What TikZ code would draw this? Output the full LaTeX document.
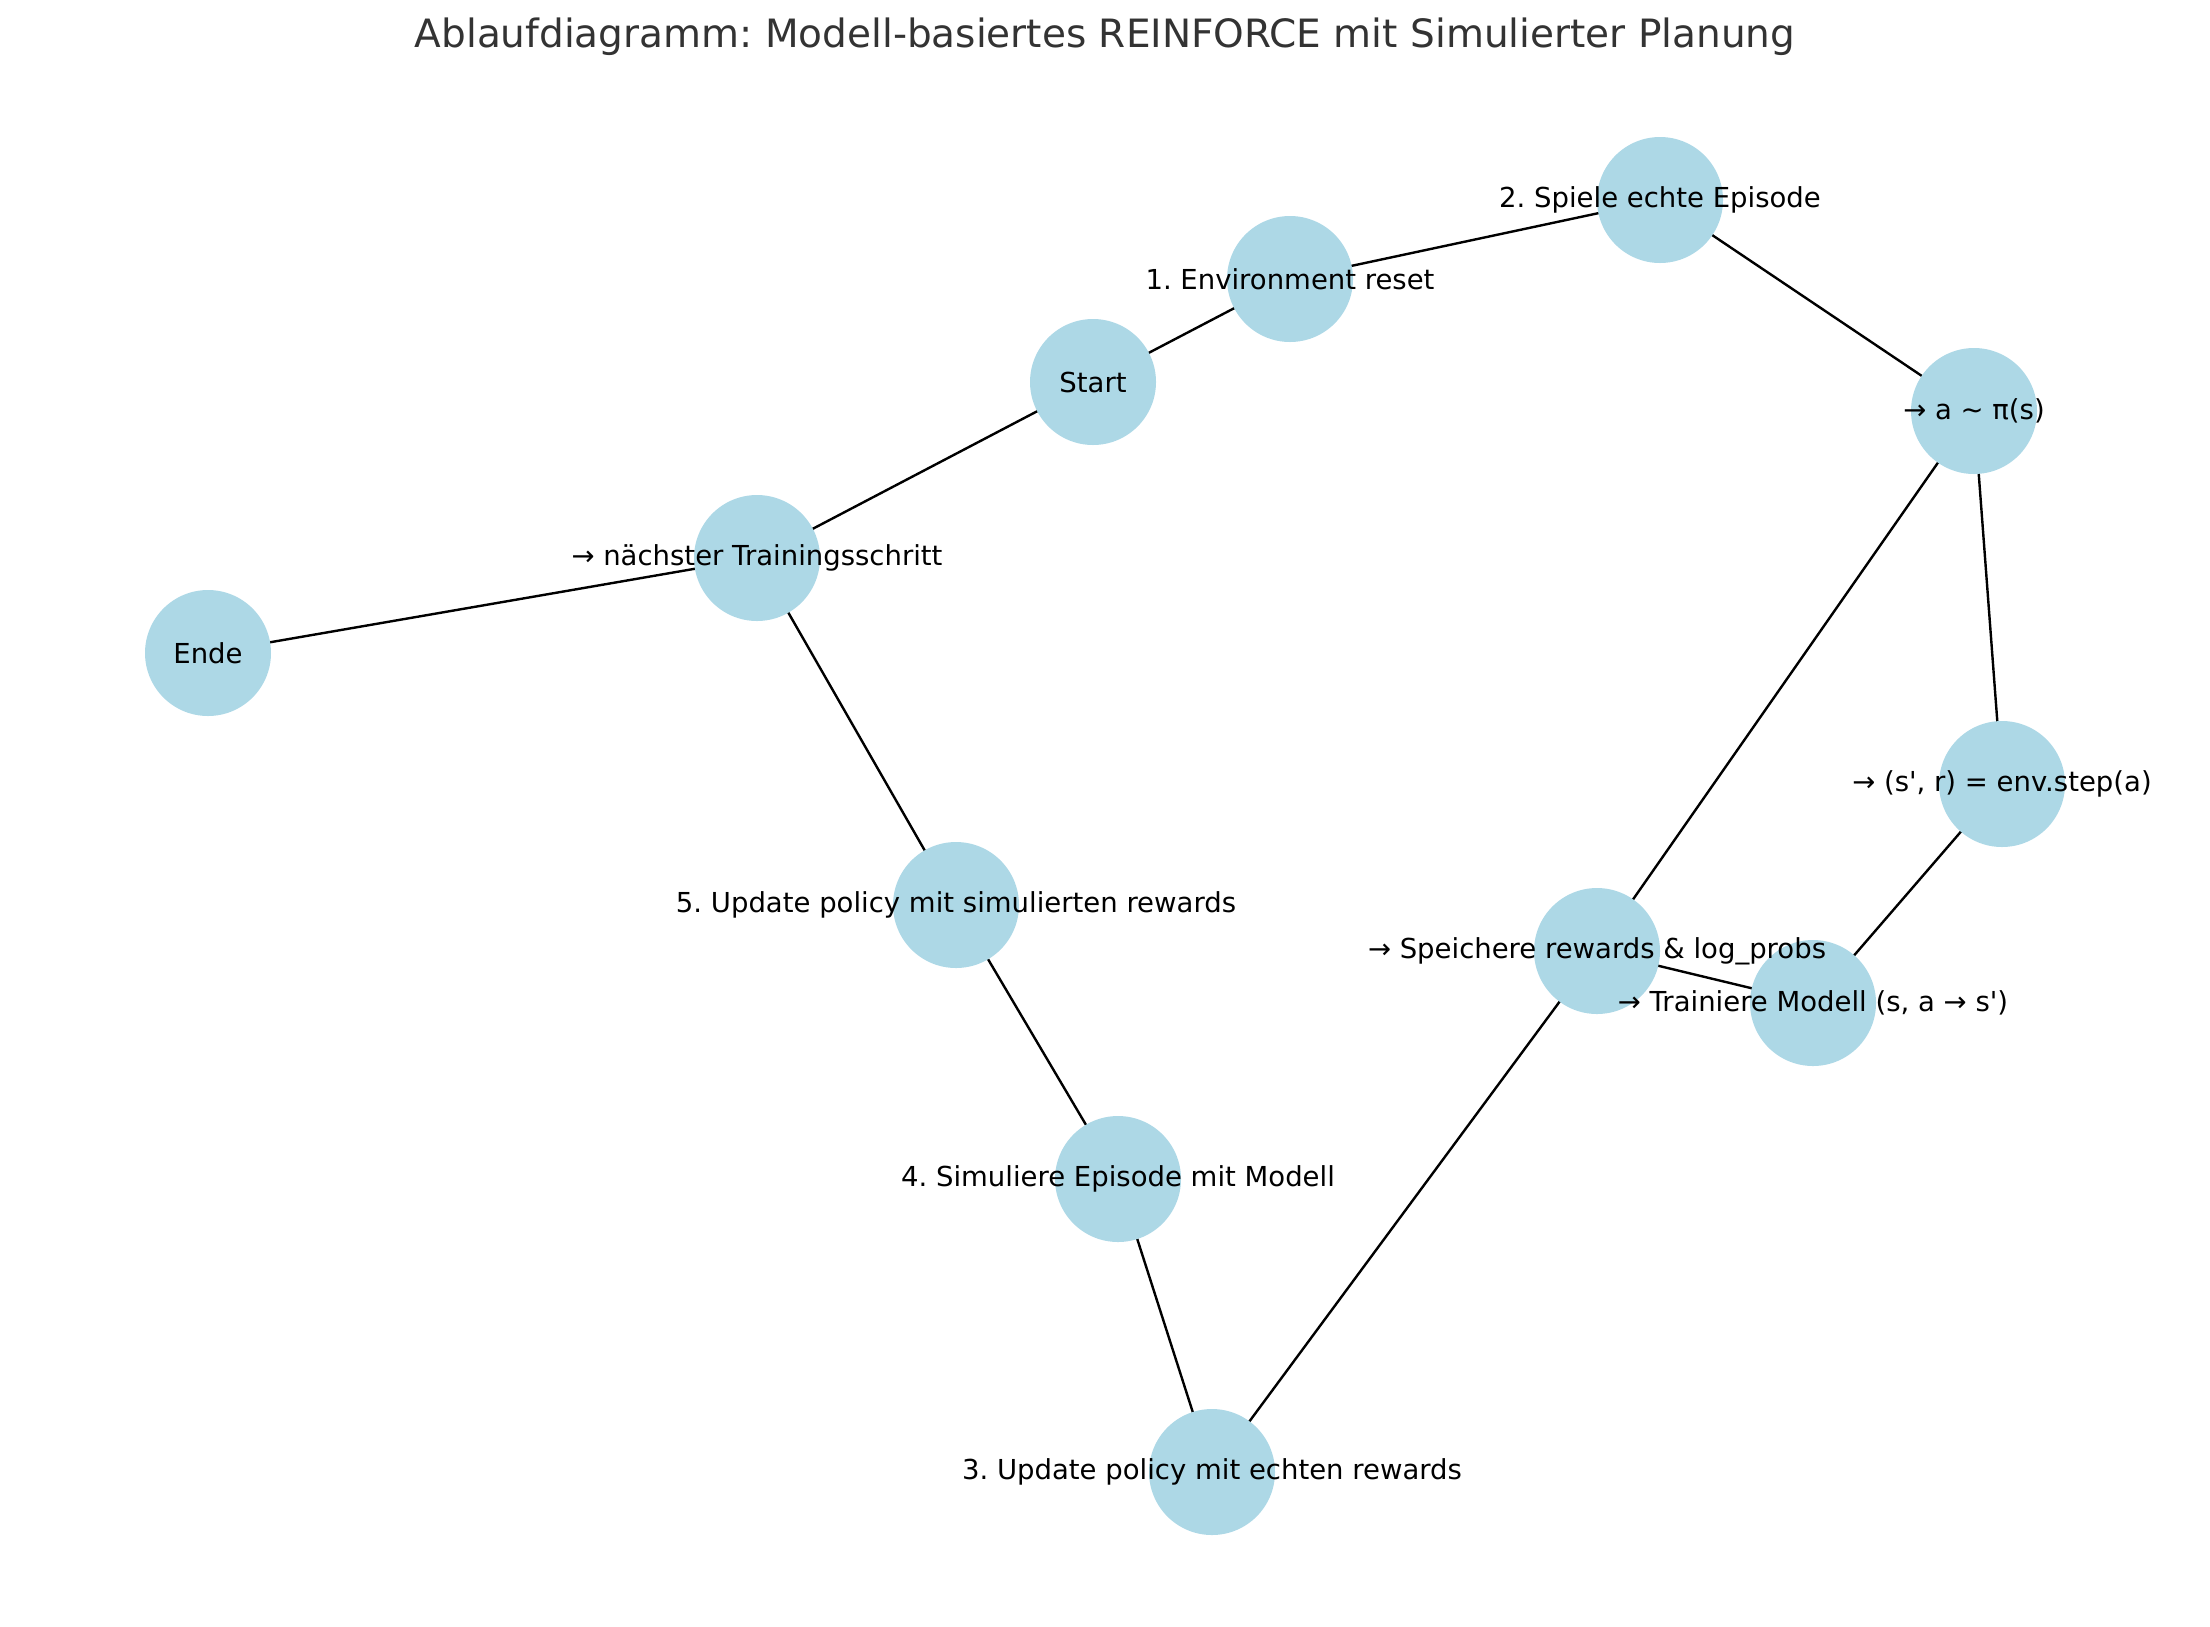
\documentclass[tikz,border=0pt]{standalone}
\usepackage{fontspec}
\setmainfont{DejaVu Sans}[Ligatures=TeXOff]
\frenchspacing
\pgfdeclarelayer{background}
\pgfsetlayers{background,main}
\definecolor{nodeblue}{HTML}{ADD8E6}
\definecolor{titlegray}{HTML}{333333}
\begin{document}
\begin{tikzpicture}[x=1pt,y=-1pt,
  vertex/.style={circle,fill=nodeblue,draw=none,minimum size=126pt,inner sep=0pt},
  vlabel/.style={inner sep=0pt,font=\fontsize{27.5}{33}\selectfont},
  link/.style={line width=2.4pt,black}]
\useasboundingbox (0,0) rectangle (2210,1626);
\node[font=\fontsize{39}{46}\selectfont,text=titlegray] (title) at (1105,37) {Ablaufdiagramm: Modell-basiertes REINFORCE mit Simulierter Planung};
\node[vertex] (start) at (1093,382) {};
\node[vertex] (reset) at (1290,279) {};
\node[vertex] (spiele) at (1660,200) {};
\node[vertex] (api) at (1974,411) {};
\node[vertex] (step) at (2002,784) {};
\node[vertex] (train) at (1813,1003) {};
\node[vertex] (speich) at (1597,951) {};
\node[vertex] (upd3) at (1212,1472) {};
\node[vertex] (sim4) at (1118,1179) {};
\node[vertex] (upd5) at (956,905) {};
\node[vertex] (next) at (757,558) {};
\node[vertex] (ende) at (208,653) {};
\begin{pgfonlayer}{background}
\draw[link] (start.center) -- (reset.center);
\draw[link] (reset.center) -- (spiele.center);
\draw[link] (spiele.center) -- (api.center);
\draw[link] (api.center) -- (step.center);
\draw[link] (step.center) -- (train.center);
\draw[link] (train.center) -- (speich.center);
\draw[link] (speich.center) -- (api.center);
\draw[link] (speich.center) -- (upd3.center);
\draw[link] (upd3.center) -- (sim4.center);
\draw[link] (sim4.center) -- (upd5.center);
\draw[link] (upd5.center) -- (next.center);
\draw[link] (next.center) -- (start.center);
\draw[link] (next.center) -- (ende.center);
\end{pgfonlayer}
\node[vlabel] (lstart) at (start) {Start};
\node[vlabel] (lreset) at (reset) {1. Environment reset};
\node[vlabel] (lspiele) at (spiele) {2. Spiele echte Episode};
\node[vlabel] (lapi) at (api) {→ a \char`~{} π(s)};
\node[vlabel] (lstep) at (step) {→ (s', r) = env.step(a)};
\node[vlabel] (ltrain) at (train) {→ Trainiere Modell (s, a → s')};
\node[vlabel] (lspeich) at (speich) {→ Speichere rewards \& log\_probs};
\node[vlabel] (lupd3) at (upd3) {3. Update policy mit echten rewards};
\node[vlabel] (lsim4) at (sim4) {4. Simuliere Episode mit Modell};
\node[vlabel] (lupd5) at (upd5) {5. Update policy mit simulierten rewards};
\node[vlabel] (lnext) at (next) {→ nächster Trainingsschritt};
\node[vlabel] (lende) at (ende) {Ende};
\end{tikzpicture}
\end{document}
